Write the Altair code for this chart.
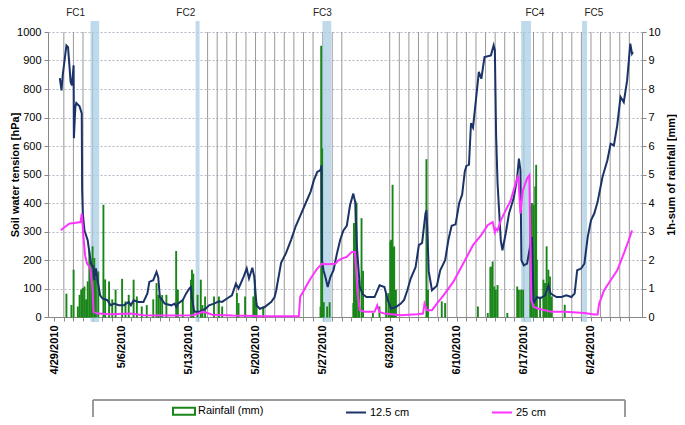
import altair as alt
import pandas as pd

# ---------------- data ----------------
# time axis: days after 4/29/2010 00:00
t125 = [0.58, 0.76, 0.89, 1.27, 1.44, 1.71, 1.85, 2.02, 2.05, 2.20, 2.30, 2.64, 2.87, 2.91, 2.98,
        3.15, 3.32, 3.49, 3.66, 3.84, 4.10, 4.18, 4.35, 4.52, 4.79, 5.03, 5.54, 5.89, 6.23, 6.74,
        7.26, 7.77, 8.00, 8.28, 8.79, 9.31, 9.72, 9.92, 10.33, 10.67, 10.85, 11.02, 11.53, 12.21,
        12.56, 12.73, 12.90, 13.41, 13.75, 14.10, 14.26, 14.37, 14.61, 15.13, 15.46, 15.80, 16.15,
        16.67, 17.18, 17.52, 18.03, 18.54, 18.72, 18.95, 19.23, 19.74, 20.08, 20.32, 20.67, 20.87,
        21.11, 21.45, 21.96, 22.65, 22.99, 23.16, 23.67, 24.19, 24.70, 25.21, 25.73, 26.24, 26.75,
        27.09, 27.44, 27.78, 27.88, 27.93, 28.09, 28.29, 28.53, 28.81, 29.14, 29.49, 29.83, 30.17,
        30.52, 30.86, 31.20, 31.42, 31.58, 31.88, 32.19, 32.57, 33.42, 33.94, 34.45, 34.79, 35.14,
        35.65, 36.16, 36.50, 36.84, 37.19, 37.70, 38.04, 38.38, 38.73, 38.83, 38.93, 39.07, 39.41,
        39.92, 40.27, 40.78, 41.12, 41.46, 41.87, 42.25, 42.56, 42.83, 43.00, 43.27, 43.48, 43.69,
        43.99, 44.30, 44.56, 44.89, 45.56, 45.84, 45.97, 46.10, 46.25, 46.59, 46.76, 47.10, 47.45,
        47.96, 48.30, 48.48, 48.64, 48.74, 48.99, 49.33, 49.67, 49.84, 50.02, 50.36, 50.69, 51.21,
        51.56, 51.79, 52.41, 52.92, 53.43, 53.95, 54.29, 54.56, 54.97, 55.31, 55.66, 56.00, 56.34,
        56.69, 57.20, 57.71, 58.05, 58.39, 58.74, 59.08, 59.42, 59.77, 60.10, 60.28, 60.38]
v125 = [838, 795, 850, 953, 947, 824, 813, 883, 627, 737, 751, 739, 714, 444, 364,
        304, 287, 269, 228, 188, 174, 129, 171, 129, 76, 65, 59, 41, 47, 41,
        41, 53, 41, 59, 53, 53, 83, 123, 129, 158, 140, 70, 47, 41,
        47, 35, 47, 59, 82, 100, 105, 65, 18, 18, 24, 29, 41,
        47, 55, 53, 65, 76, 94, 117, 100, 140, 170, 135, 173, 140,
        41, 29, 35, 53, 70, 94, 190, 225, 270, 320, 360, 400, 440,
        480, 509, 515, 532, 200, 164, 140, 105, 140, 164, 222, 270, 304,
        320, 392, 433, 400, 246, 105, 80, 70, 70, 111, 105, 60, 29,
        35, 47, 60, 94, 135, 175, 252, 260, 363, 374, 300, 160, 94,
        110, 164, 199, 270, 320, 325, 400, 430, 510, 530, 535, 680, 665,
        760, 860, 836, 912, 918, 953, 936, 640, 470, 269, 234, 293, 363,
        421, 490, 556, 515, 199, 181, 187, 252, 281, 47, 70, 65, 76,
        111, 82, 70, 70, 76, 70, 82, 164, 170, 187, 281, 339, 363,
        404, 491, 550, 608, 602, 673, 772, 754, 830, 959, 924, 930]

t25 = [0.69, 1.10, 1.61, 2.12, 2.74, 2.87, 2.98, 3.08, 3.22, 3.43, 3.59, 3.77, 4.00, 4.10, 4.52,
       5.89, 7.94, 9.31, 12.39, 14.44, 15.05, 15.46, 15.98, 16.49, 18.54, 21.62, 25.52, 25.66,
       26.24, 26.75, 27.44, 27.95, 28.47, 29.32, 29.66, 30.01, 30.52, 31.03, 31.37, 31.65, 31.88,
       32.40, 33.42, 33.70, 33.94, 34.45, 36.16, 37.87, 38.48, 38.63, 38.89, 39.41, 39.92, 40.61,
       41.63, 42.66, 43.69, 44.54, 45.22, 45.74, 45.97, 46.08, 46.25, 46.59, 47.10, 47.62, 48.13,
       48.41, 48.64, 48.89, 49.33, 49.57, 49.77, 50.02, 50.53, 51.89, 53.26, 55.31, 56.34, 56.69,
       56.85, 57.37, 58.05, 58.74, 59.42, 59.93, 60.28]
v25 = [304, 316, 328, 330, 333, 363, 316, 269, 216, 187, 180, 170, 94, 18, 12,
       10, 12, 6, 5, 6, 12, 18, 14, 8, 5, 3, 3, 70,
       105, 135, 170, 187, 185, 187, 199, 205, 211, 228, 228, 82, 24,
       18, 18, 41, 18, 12, 6, 10, 12, 47, 24, 24, 47, 76,
       123, 187, 252, 287, 322, 333, 298, 310, 304, 339, 374, 409, 468,
       497, 363, 444, 486, 497, 59, 35, 29, 18, 18, 14, 9, 9,
       47, 94, 129, 164, 222, 269, 304]

rain_t = [1.27, 1.79, 2.02, 2.46, 2.64, 2.81, 2.98, 3.15, 3.32, 3.49, 3.66, 3.84, 4.00, 4.18, 4.35,
          4.59, 5.13, 5.31, 5.72, 6.05, 6.40, 7.08, 7.43, 7.77, 8.28, 8.62, 9.13, 9.65, 10.33, 10.67,
          10.85, 11.05, 11.26, 11.70, 12.72, 12.90, 13.41, 14.26, 14.37, 14.51, 14.95, 15.29, 15.46,
          15.74, 16.67, 17.18, 17.52, 19.06, 19.23, 19.91, 20.77, 20.93, 21.11, 21.80, 27.78, 27.85,
          27.95, 28.12, 28.47, 28.73, 31.20, 31.27, 31.37, 31.44, 31.54, 31.71, 31.81, 32.06, 32.22,
          33.25, 33.93, 34.62, 34.86, 35.06, 35.14, 35.30, 35.40, 35.47, 35.65, 38.83, 38.99, 40.43,
          40.78, 44.20, 45.23, 45.50, 45.56, 45.74, 45.91, 46.07, 46.25, 47.27, 48.30, 48.48, 48.71,
          48.92, 49.67, 49.84, 50.02, 50.18, 50.28, 50.35, 50.69, 51.04, 51.20, 51.37, 51.55, 51.72,
          51.89, 53.26]
rain_mm = [0.8, 0.4, 1.64, 0.35, 0.76, 0.94, 1.0, 1.05, 0.6, 1.23, 2.28, 1.93, 2.46, 2.05, 1.35,
           1.58, 3.92, 1.3, 1.23, 0.6, 0.94, 1.32, 0.53, 0.76, 1.29, 0.7, 0.35, 0.4, 0.6, 1.17,
           0.76, 0.7, 0.75, 0.76, 2.3, 0.94, 0.6, 1.29, 1.64, 1.5, 0.76, 1.29, 0.4,
           0.7, 0.7, 0.7, 0.35, 0.82, 0.47, 0.7, 0.7, 1.29, 0.47, 0.35, 0.35, 9.5,
           5.9, 0.5, 0.35, 0.5, 0.47, 3.28, 3.16, 4.04, 3.98, 0.7, 1.29, 3.45, 1.6,
           0.12, 0.35, 0.82, 0.82, 2.63, 2.69, 4.62, 2.4, 2.46, 0.94, 5.52, 0.94, 0.53,
           0.47, 0.35, 0.12, 1.73, 1.75, 1.93, 1.05, 0.94, 1.1, 0.12, 1.05, 0.94, 0.94,
           0.94, 3.86, 3.98, 3.92, 4.56, 5.32, 1.99, 0.7, 1.29, 1.17, 2.46, 1.64, 1.4,
           0.7, 0.41]

grid_days = [1, 2, 3, 4] + list(range(16, 31)) + list(range(35, 61))

fc_names = ["FC1", "FC2", "FC3", "FC4", "FC5"]
fc_start = [3.78, 14.75, 27.98, 48.71, 55.07]
fc_end = [4.69, 15.16, 28.90, 49.74, 55.59]
fc_label_day = [2.23, 13.72, 27.98, 50.15, 56.30]

series_names = ["Rainfall (mm)", "12.5 cm", "25 cm"]
series_colors = ["#1a861a", "#1b3368", "#ff33ff"]
series_symbols = ["M-1.1,-0.35H1.1V0.35H-1.1Z", "stroke", "stroke"]

hpa_ticks = list(range(0, 1001, 100))
mm_ticks = list(range(0, 11))
day_ticks = list(range(0, 61))

# ---------------- tables ----------------
lines_df = pd.concat([
    pd.DataFrame({"day": t125, "value": v125, "series": "12.5 cm"}),
    pd.DataFrame({"day": t25, "value": v25, "series": "25 cm"}),
])
rain_df = pd.DataFrame({"day": rain_t, "mm": rain_mm, "series": "Rainfall (mm)"})
grid_df = pd.DataFrame({"day": grid_days})
fc_df = pd.DataFrame({"name": fc_names, "start": fc_start, "end": fc_end, "label_day": fc_label_day})
legend_df = pd.DataFrame({"series": series_names})

FONT = "Liberation Sans"
W, H = 594, 285

xscale = alt.Scale(domain=[-0.13, 60.8], nice=False, zero=False)
color_scale = alt.Scale(domain=series_names, range=series_colors)
legend = alt.Legend(orient="none", legendX=125, legendY=368, direction="horizontal",
                    title=None, symbolSize=400, symbolStrokeWidth=2, labelFont=FONT,
                    labelFontSize=11, labelColor="#000", labelOffset=3, columnPadding=78)

x_axis = alt.Axis(values=day_ticks, tickSize=4, labelAngle=270, labelAlign="right",
                  labelBaseline="middle", labelPadding=4, labelOverlap=False, labelFlush=False,
                  labelExpr="datum.value % 7 == 0 ? timeFormat(datetime(2010, 3, 29 + datum.value), '%-m/%-d/%Y') : ''",
                  labelFontWeight="bold", grid=False, title=None, domainColor="#888", tickColor="#888")

vgrid = alt.Chart(grid_df).mark_rule(color="#999999", strokeWidth=1).encode(
    x=alt.X("day:Q", scale=xscale, axis=x_axis, title=None))

bands = alt.Chart(fc_df).mark_rect(color="#a9cfe4", opacity=0.75).encode(
    x=alt.X("start:Q", scale=xscale, axis=x_axis, title=None), x2="end:Q",
    y=alt.value(-11), y2=alt.value(H + 5))

fc_text = alt.Chart(fc_df).mark_text(font=FONT, fontSize=10, color="#222", baseline="middle").encode(
    x=alt.X("label_day:Q", scale=xscale, axis=x_axis, title=None), y=alt.value(-19), text="name:N")

bars = alt.Chart(rain_df).mark_bar(filled=False, size=0.8, strokeWidth=1.1).encode(
    x=alt.X("day:Q", scale=xscale, axis=x_axis, title=None),
    y=alt.Y("mm:Q", scale=alt.Scale(domain=[0, 10], nice=False),
            axis=alt.Axis(orient="right", values=mm_ticks, grid=False, title="1h-sum of rainfall [mm]",
                          titleAngle=270, titleBaseline="top", titlePadding=5, tickSize=4,
                          labelPadding=2, format="d")),
    color=alt.Color("series:N", scale=color_scale, legend=legend))

lines = alt.Chart(lines_df).mark_line(strokeWidth=2).encode(
    x=alt.X("day:Q", scale=xscale, axis=x_axis, title=None),
    y=alt.Y("value:Q", scale=alt.Scale(domain=[0, 1000], nice=False),
            axis=alt.Axis(orient="left", values=hpa_ticks, title="Soil water tension [hPa]",
                          titlePadding=-4, tickSize=4, labelPadding=3, grid=True, format="d",
                          gridDash=[2, 2], gridColor="#b4b4c4")),
    color=alt.Color("series:N", scale=color_scale, legend=legend),
    detail="series:N")

legend_pts = alt.Chart(legend_df).transform_filter("false").mark_point(filled=False).encode(
    color=alt.Color("series:N", scale=color_scale, legend=legend),
    shape=alt.Shape("series:N", scale=alt.Scale(domain=series_names, range=series_symbols), legend=legend))

legend_box = alt.Chart(legend_df).mark_rect(fill=None, stroke="#8c8c8c", strokeWidth=1).encode(
    x=alt.value(45), x2=alt.value(577), y=alt.value(368), y2=alt.value(420))

chart = alt.layer(vgrid, bands, bars, lines, fc_text, legend_pts, legend_box).resolve_scale(
    y="independent"
).properties(
    width=W, height=H,
    autosize=alt.AutoSizeParams(type="none"),
    padding={"left": 40, "top": 24, "right": 35, "bottom": 100},
).configure_view(stroke=None).configure_axis(
    labelFont=FONT, labelFontSize=11, labelColor="#000", titleFont=FONT, titleFontSize=11,
    titleFontWeight="bold", titleColor="#000", domainColor="#888", tickColor="#888"
)

chart.save("out.html", embed_options={"renderer": "svg", "actions": False})
